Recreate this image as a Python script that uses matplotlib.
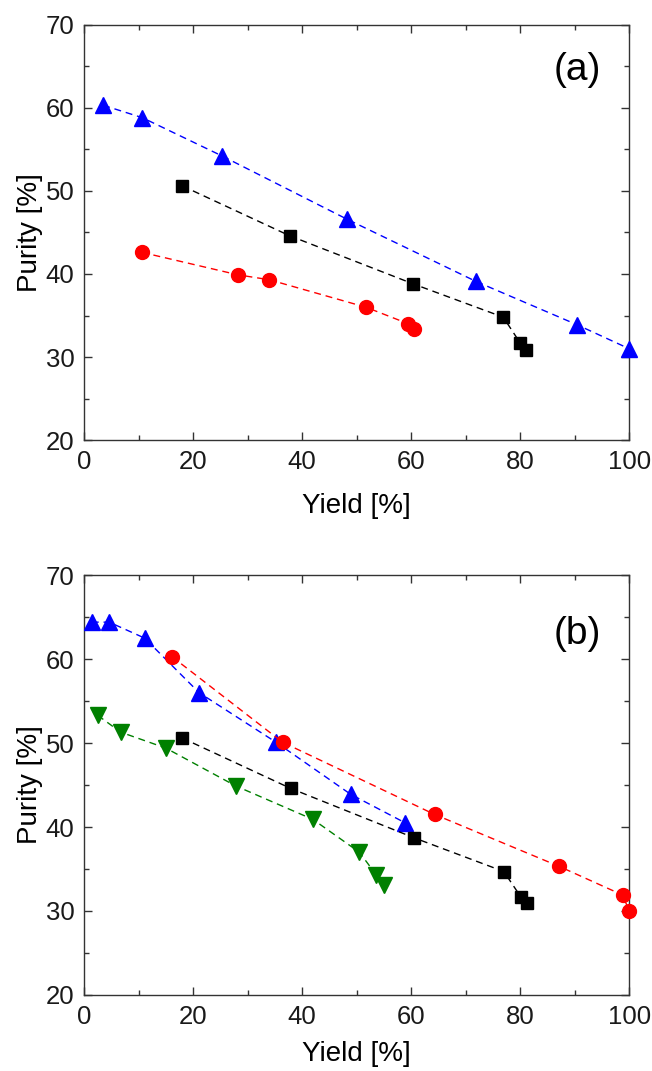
import numpy as np
import matplotlib.pyplot as plt
from matplotlib.ticker import MultipleLocator

plt.rcParams['font.family'] = ['Liberation Sans', 'DejaVu Sans']

# panel (a)
a_blue_x = [3.5, 10.7, 25.3, 48.2, 71.9, 90.4, 100.0]
a_blue_y = [60.3, 58.8, 54.2, 46.6, 39.1, 33.9, 31.0]
a_black_x = [18.0, 37.7, 60.4, 76.9, 80.0, 81.1]
a_black_y = [50.6, 44.6, 38.8, 34.8, 31.7, 30.9]
a_red_x = [10.6, 28.2, 34.0, 51.7, 59.5, 60.6]
a_red_y = [42.6, 39.9, 39.3, 36.0, 34.0, 33.4]

# panel (b)
b_blue_x = [1.4, 4.6, 11.1, 21.1, 35.2, 48.9, 58.9]
b_blue_y = [64.4, 64.4, 62.5, 56.0, 50.1, 43.9, 40.5]
b_red_x = [16.1, 36.4, 64.3, 87.2, 98.8, 100.0]
b_red_y = [60.3, 50.1, 41.5, 35.3, 31.9, 30.0]
b_black_x = [18.0, 37.9, 60.6, 77.0, 80.1, 81.3]
b_black_y = [50.6, 44.6, 38.7, 34.7, 31.7, 30.9]
b_green_x = [2.5, 6.7, 15.0, 27.8, 42.0, 50.5, 53.6, 55.0]
b_green_y = [53.3, 51.3, 49.4, 44.9, 40.9, 37.0, 34.3, 33.1]

fig = plt.figure(figsize=(6.52, 10.71), dpi=100)
ax_a = fig.add_axes([0.129, 0.589, 0.836, 0.388])
ax_b = fig.add_axes([0.129, 0.071, 0.836, 0.392])

dash = (0, (5, 3.5))


def series(ax, x, y, color, marker, ms):
    ax.plot(x, y, linestyle=dash, color=color, lw=1.0, marker=marker,
            markersize=ms, markeredgecolor=color, markerfacecolor=color,
            clip_on=False, zorder=3)


series(ax_a, a_blue_x, a_blue_y, '#0000ff', '^', 11.5)
series(ax_a, a_black_x, a_black_y, 'black', 's', 8.5)
series(ax_a, a_red_x, a_red_y, '#ff0000', 'o', 10)

series(ax_b, b_blue_x, b_blue_y, '#0000ff', '^', 11.5)
series(ax_b, b_red_x, b_red_y, '#ff0000', 'o', 10)
series(ax_b, b_black_x, b_black_y, 'black', 's', 8.5)
series(ax_b, b_green_x, b_green_y, '#008000', 'v', 11.5)

for ax, tag, ty, lp in [(ax_a, '(a)', 0.89, 14), (ax_b, '(b)', 0.86, 9)]:
    ax.set_xlim(0, 100)
    ax.set_ylim(20, 70)
    ax.xaxis.set_major_locator(MultipleLocator(20))
    ax.xaxis.set_minor_locator(MultipleLocator(10))
    ax.yaxis.set_major_locator(MultipleLocator(10))
    ax.yaxis.set_minor_locator(MultipleLocator(5))
    ax.tick_params(which='both', direction='in', top=True, right=True,
                   labelsize=18.5, color='#333333', labelcolor='#1a1a1a')
    ax.tick_params(which='major', length=6, width=1, pad=7)
    ax.tick_params(which='minor', length=3.5, width=1)
    for s in ax.spines.values():
        s.set_color('#333333')
        s.set_linewidth(1.0)
    ax.set_xlabel('Yield [%]', fontsize=20, labelpad=lp)
    ax.set_ylabel('Purity [%]', fontsize=20, labelpad=2)
    ax.text(0.905, ty, tag, transform=ax.transAxes, fontsize=28,
            ha='center', va='center')

fig.savefig('out.png', dpi=100)
